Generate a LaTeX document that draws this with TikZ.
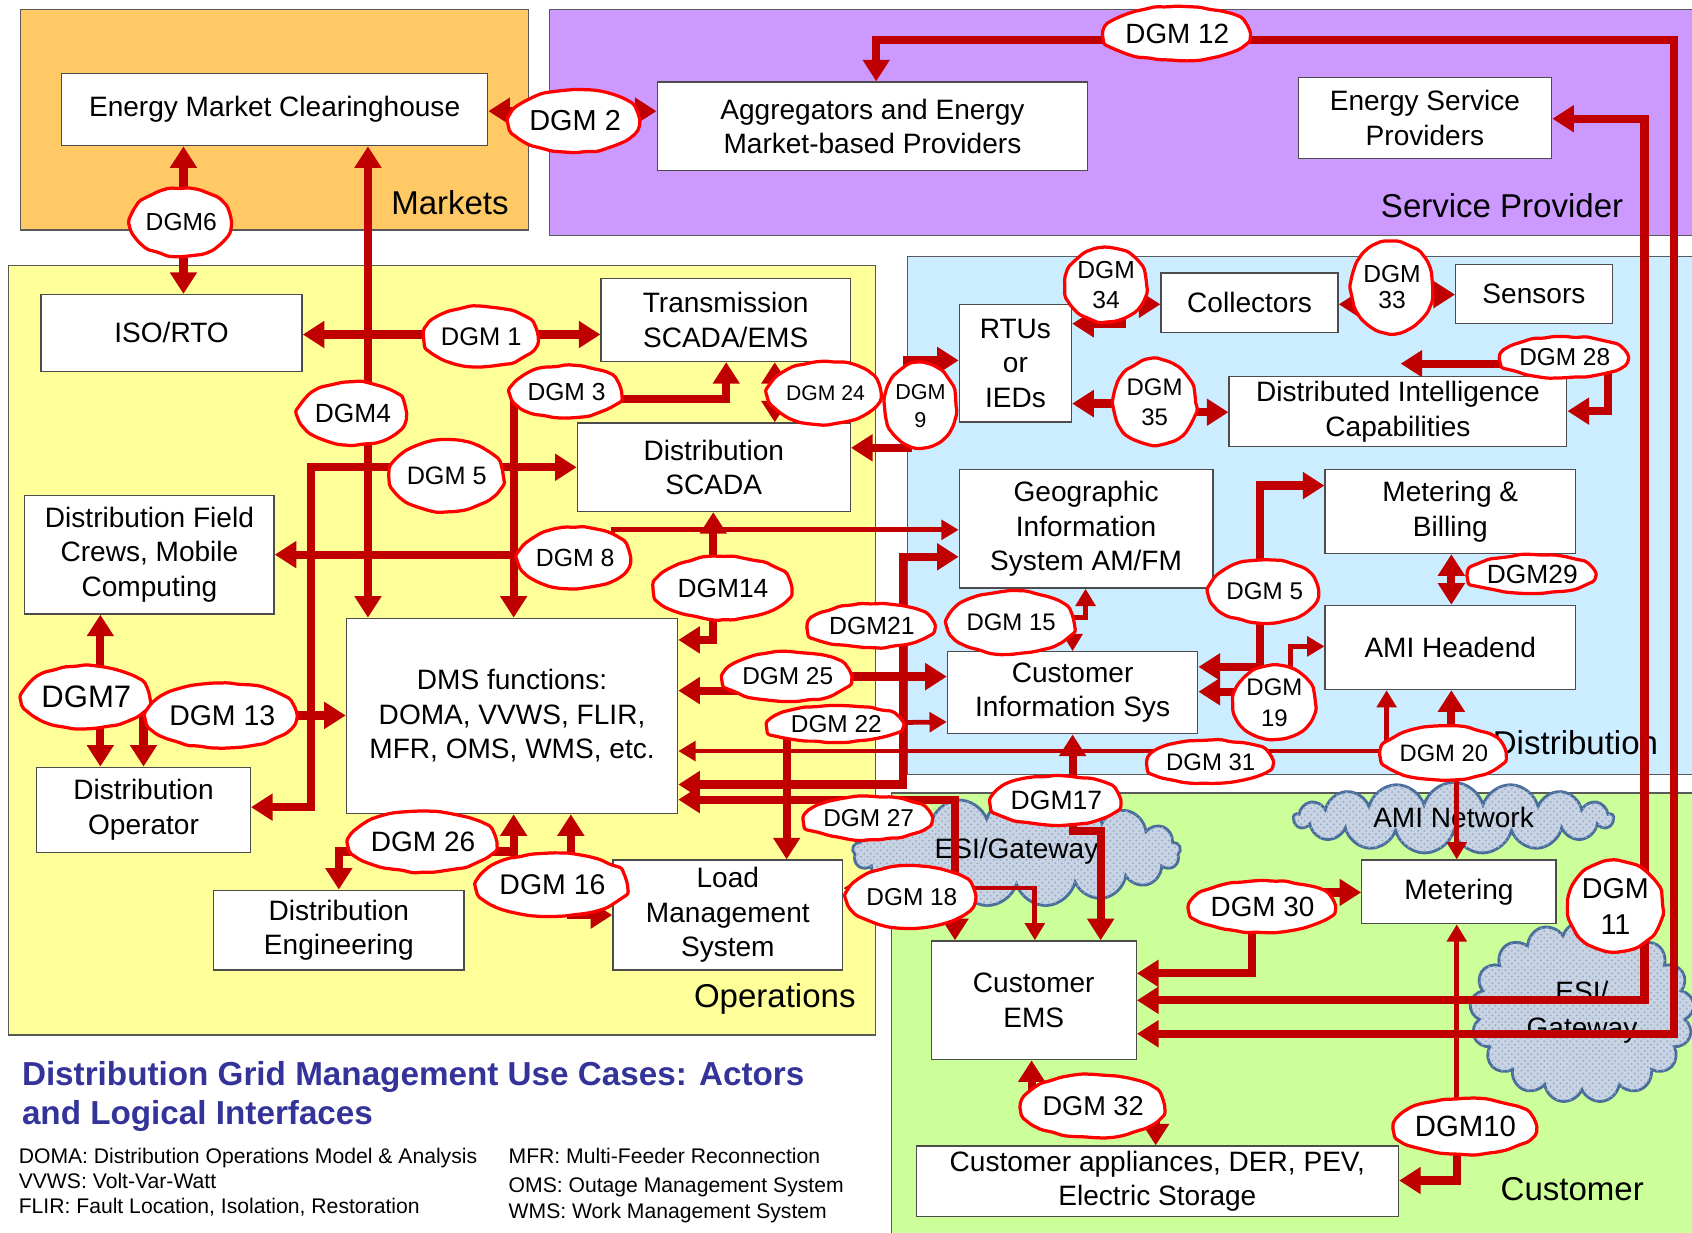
\documentclass[tikz,border=0pt]{standalone}
\usepackage{fontspec}
\setmainfont{Liberation Sans}
\usetikzlibrary{arrows.meta,shapes.geometric,shapes.symbols,patterns,decorations.pathmorphing}
\definecolor{arr}{HTML}{C00000}
\definecolor{mktc}{HTML}{FFC966}
\definecolor{svcc}{HTML}{CC99FF}
\definecolor{opsc}{HTML}{FFFF99}
\definecolor{distc}{HTML}{CCECFF}
\definecolor{custc}{HTML}{CCFF99}
\definecolor{titlec}{HTML}{333399}
\definecolor{cloudf}{HTML}{C8D4E4}
\definecolor{cloudb}{HTML}{4A6E9C}
\definecolor{cloudp}{HTML}{9AADC8}
\pgfdeclarelayer{bg}\pgfdeclarelayer{mid}\pgfsetlayers{bg,mid,main}
\tikzset{
 region/.style={draw=black!65, line width=0.6pt},
 regionlabel/.style={inner sep=0, font=\fontsize{15.3}{18}\selectfont},
 box/.style={draw=black!70, line width=0.6pt, fill=white, inner sep=0, align=center, font=\fontsize{13}{16}\selectfont},
 dgm/.style={ellipse, draw=red, line width=1.5pt, fill=white, inner sep=0, align=center, decorate, decoration={random steps, segment length=5pt, amplitude=0.45pt, pre length=3pt, post length=3pt}, rounded corners=1pt},
 con/.style={draw=arr, line width=3.8pt, >={Triangle[width=12pt,length=10pt]}},
 cont/.style={draw=arr, line width=2.2pt, >={Triangle[width=9pt,length=8pt]}},
 cloudy/.style={cloud, cloud puffs=17, cloud ignores aspect, draw=cloudb, line width=1.3pt, fill=cloudf, postaction={pattern=crosshatch dots, pattern color=cloudp}, inner sep=0, align=center, font=\fontsize{13}{17}\selectfont},
 foot/.style={inner sep=0, anchor=base west, font=\fontsize{9.8}{12}\selectfont},
}
\newcommand{\dgm}[8]{\node[dgm, minimum width=#4*0.5pt, minimum height=#5*0.5pt, font=\fontsize{#6}{#7}\selectfont] (#1) at (#2,#3) {#8};}
\newcommand{\bx}[6]{\node[box, minimum width={(#4-#2)*0.5pt}, minimum height={(#5-#3)*0.5pt}] (#1) at ({(#2+#4)/2},{(#3+#5)/2}) {#6};}
\begin{document}
\begin{tikzpicture}[x=0.5pt,y=-0.5pt]
\pgfmathsetseed{11}
\useasboundingbox (0,0) rectangle (1568,1142);
\begin{pgfonlayer}{bg}
\fill[white] (0,0) rectangle (1568,1142);
\draw[region,fill=mktc] (19,9) rectangle (490,213);
\draw[region,fill=svcc] (509,9) rectangle (1590,218);
\draw[region,fill=opsc] (8,246) rectangle (811,959);
\draw[region,fill=distc] (841,238) rectangle (1590,718);
\draw[region,fill=custc] (826,735) rectangle (1590,1160);
\node[regionlabel] (tmkt) at (417,188) {Markets};
\node[regionlabel] (tsvc) at (1392,191) {Service Provider};
\node[regionlabel] (tops) at (718,926) {Operations};
\node[regionlabel] (tdist) at (1460,688) {Distribution};
\node[regionlabel] (tcust) at (1457,1102) {Customer};
\node[cloudy, minimum width=152pt, minimum height=51pt] (cl1) at (942,789) {ESI/Gateway};
\node[cloudy, minimum width=148pt, minimum height=33pt] (cl2) at (1347,758) {AMI Network};
\node[cloudy, minimum width=104pt, minimum height=84pt] (cl3) at (1466,938) {ESI/\\Gateway};
\end{pgfonlayer}

% title and footnotes
\node[anchor=north west, inner sep=0, align=left, text=titlec, font=\bfseries\fontsize{15.4}{18}\selectfont] (title) at (20,983) {Distribution Grid Management Use Cases: Actors\\and Logical Interfaces};
\node[foot] (f1) at (17,1078) {DOMA: Distribution Operations Model \& Analysis};
\node[foot] (f2) at (17,1101) {VVWS: Volt-Var-Watt};
\node[foot] (f3) at (17,1125) {FLIR: Fault Location, Isolation, Restoration};
\node[foot] (f4) at (471,1078) {MFR: Multi-Feeder Reconnection};
\node[foot] (f5) at (471,1105) {OMS: Outage Management System};
\node[foot] (f6) at (471,1129) {WMS: Work Management System};

% boxes
\bx{emc}{57}{68}{452}{135}{Energy Market Clearinghouse}
\bx{agg}{609}{76}{1008}{158}{Aggregators and Energy\\Market-based Providers}
\bx{esp}{1203}{72}{1438}{147}{Energy Service\\Providers}
\bx{iso}{38}{273}{280}{344}{ISO/RTO}
\bx{tsc}{557}{258}{788}{335}{Transmission\\SCADA/EMS}
\bx{dsc}{535}{392}{788}{474}{Distribution\\SCADA}
\bx{crew}{23}{459}{254}{569}{Distribution Field\\Crews, Mobile\\Computing}
\bx{dms}{321}{573}{628}{754}{DMS functions:\\DOMA, VVWS, FLIR,\\MFR, OMS, WMS, etc.}
\bx{dop}{34}{711}{232}{790}{Distribution\\Operator}
\bx{deng}{198}{825}{430}{899}{Distribution\\Engineering}
\bx{lms}{568}{797}{781}{899}{Load\\Management\\System}
\bx{rtu}{889}{282}{993}{391}{RTUs\\or\\IEDs}
\bx{coll}{1076}{253}{1240}{308}{Collectors}
\bx{sens}{1349}{245}{1494}{300}{Sensors}
\bx{dic}{1139}{349}{1452}{414}{Distributed Intelligence\\Capabilities}
\bx{gis}{889}{435}{1124}{545}{Geographic\\Information\\System AM/FM}
\bx{mb}{1228}{435}{1460}{513}{Metering \&\\Billing}
\bx{ami}{1228}{561}{1460}{639}{AMI Headend}
\bx{cis}{878}{604}{1110}{680}{Customer\\Information Sys}
\bx{met}{1262}{797}{1442}{856}{Metering}
\bx{cems}{863}{872}{1053}{982}{Customer\\EMS}
\bx{capp}{849}{1062}{1296}{1127}{Customer appliances, DER, PEV,\\Electric Storage}

% interface labels
\dgm{l2}{533}{112}{92}{58}{13.4}{16}{DGM 2}
\dgm{l12}{1091}{31}{118}{50}{12.9}{15}{DGM 12}
\dgm{l6}{168}{206}{88}{62}{11.4}{14}{DGM6}
\dgm{l1}{446}{312}{88}{56}{11.8}{14}{DGM 1}
\dgm{l4}{327}{383}{84}{58}{12.2}{14}{DGM4}
\dgm{l3}{525}{363}{84}{48}{11.4}{14}{DGM 3}
\dgm{l24}{765}{364}{80}{58}{9.8}{12}{DGM 24}
\dgm{l9}{853}{376}{62}{78}{10}{13}{DGM\\9}
\dgm{l5a}{414}{441}{92}{66}{11.7}{14}{DGM 5}
\dgm{l8}{533}{517}{88}{56}{11.5}{14}{DGM 8}
\dgm{l14}{670}{545}{128}{58}{12.2}{14}{DGM14}
\dgm{l21}{808}{580}{118}{40}{11.5}{14}{DGM21}
\dgm{l25}{730}{627}{104}{46}{11.3}{14}{DGM 25}
\dgm{l22}{775}{671}{126}{34}{11.3}{14}{DGM 22}
\dgm{l27}{805}{758}{110}{40}{11.3}{14}{DGM 27}
\dgm{l7}{80}{646}{90}{58}{14.4}{16}{DGM7}
\dgm{l13}{206}{663}{104}{60}{13.2}{16}{DGM 13}
\dgm{l26}{392}{780}{104}{56}{13}{16}{DGM 26}
\dgm{l16}{512}{820}{110}{58}{13.2}{16}{DGM 16}
\dgm{l18}{845}{831}{88}{58}{11.3}{14}{DGM 18}
\dgm{l17}{979}{742}{108}{46}{12.3}{14}{DGM17}
\dgm{l15}{937}{577}{108}{58}{11.1}{14}{DGM 15}
\dgm{l5b}{1172}{548}{96}{58}{11.2}{14}{DGM 5}
\dgm{l19}{1181}{651}{76}{68}{11.1}{14.5}{DGM\\19}
\dgm{l31}{1122}{706}{102}{40}{11.1}{14}{DGM 31}
\dgm{l20}{1338}{698}{84}{50}{11}{14}{DGM 20}
\dgm{l29}{1420}{532}{104}{36}{12.2}{14}{DGM29}
\dgm{l28}{1450}{331}{88}{38}{11.3}{14}{DGM 28}
\dgm{l33}{1290}{266}{62}{84}{11.4}{12}{DGM\\33}
\dgm{l34}{1025}{264}{70}{68}{11.4}{14}{DGM\\34}
\dgm{l35}{1070}{373}{76}{78}{11.1}{14}{DGM\\35}
\dgm{l30}{1170}{840}{120}{48}{12.9}{15}{DGM 30}
\dgm{l11}{1497}{840}{86}{84}{13.3}{17}{DGM\\11}
\dgm{l32}{1013}{1025}{118}{58}{12.6}{15}{DGM 32}
\dgm{l10}{1358}{1044}{116}{52}{13.6}{16}{DGM10}

\coordinate (c8) at (568,514);
\coordinate (t28) at (1298,337);

\begin{pgfonlayer}{mid}
\draw[con,<->] (emc.east |- 0,103) -- (agg.west |- 0,103);
\draw[con,<->] (agg.north -| 812,0) |- (1551,37) |- (cems.east |- 0,958);
\draw[con,<->] (esp.east |- 0,110) -| (1524,927) -- (cems.east |- 0,927);
\draw[con,<->] (emc.south -| 170,0) -- (iso.north -| 170,0);
\draw[con,<->] (emc.south -| 341,0) -- (dms.north -| 341,0);
\draw[con,<->] (iso.east |- 0,310) -- (tsc.west |- 0,310);
\draw[con,<->] (dms.north -| 476,0) |- (673,370) -- (tsc.south -| 673,0);
\draw[con,<->] (tsc.south -| 718,0) -- (dsc.north -| 718,0);
\draw[con,<->] (dsc.west |- 0,433) -| (288,748) -- (dop.east |- 0,748);
\draw[con,->] (c8) -- (crew.east |- 0,514);
\draw[cont,->] (c8) |- (gis.west |- 0,491);
\draw[con,<->] (dsc.south -| 661,0) |- (dms.east |- 0,593);
\draw[con,<->] (dms.east |- 0,727) -| (837,516) -- (gis.west |- 0,516);
\draw[con,<->] (dms.east |- 0,640) -- (700,640) |- (cis.west |- 0,627);
\draw[con,->] (l22.center -| 729,0) -- (lms.north -| 729,0);
\draw[cont,->] (l22.center -| 729,0) -- (cis.west |- 0,669);
\draw[cont,<->] (dms.east |- 0,696) -| (ami.south -| 1285,0);
\draw[con,<->] (dms.east |- 0,741) -| (cems.north -| 885,0);
\draw[cont,<->] (lms.east |- 0,823) -| (cems.north -| 959,0);
\draw[con,<->] (cis.south -| 994,0) -- (994,770) -| (cems.north -| 1020,0);
\draw[cont,<->] (gis.south -| 1006,0) |- (994,572) -- (cis.north -| 994,0);
\draw[con,<->] (cis.east |- 0,618) -| (1168,450) -- (mb.west |- 0,450);
\draw[con,->] (l19.center |- 0,641) -- (cis.east |- 0,641);
\draw[cont,->] (l19.center -| 1196,0) |- (ami.west |- 0,599);
\draw[con,->] (l20.center -| 1345,0) -- (ami.south -| 1345,0);
\draw[cont,->] (l20.center -| 1350,0) -- (met.north -| 1350,0);
\draw[con,<->] (mb.south -| 1345,0) -- (ami.north -| 1345,0);
\draw[con,<->] (cems.east |- 0,902) -| (1160,827) -- (met.west |- 0,827);
\draw[cont,->] (l10.center -| 1350,0) -- (met.south -| 1350,0);
\draw[con,->] (l10.center -| 1350,0) |- (capp.east |- 0,1094);
\draw[con,<->] (cems.south -| 956,0) |- (1071,1025) -- (capp.north -| 1071,0);
\draw[con,<->] (t28) -- (1490,337) |- (dic.east |- 0,381);
\draw[con,<->] (coll.east |- 0,282) -- (1290,282) |- (sens.west |- 0,273);
\draw[con,<->] (rtu.east |- 0,300) -- (1040,300) |- (coll.west |- 0,282);
\draw[con,<->] (rtu.east |- 0,374) -- (1070,374) |- (dic.west |- 0,382);
\draw[con,<->] (dsc.east |- 0,415) -| (841,334) -- (rtu.west |- 0,334);
\draw[con,<->] (crew.south -| 93,0) -- (dop.north -| 93,0);
\draw[con,<->] (dop.north -| 133,0) |- (dms.west |- 0,663);
\draw[con,<->] (deng.north -| 314,0) |- (476,789) -- (dms.south -| 476,0);
\draw[con,<->] (dms.south -| 529,0) |- (lms.west |- 0,848);
\end{pgfonlayer}
\end{tikzpicture}
\end{document}
